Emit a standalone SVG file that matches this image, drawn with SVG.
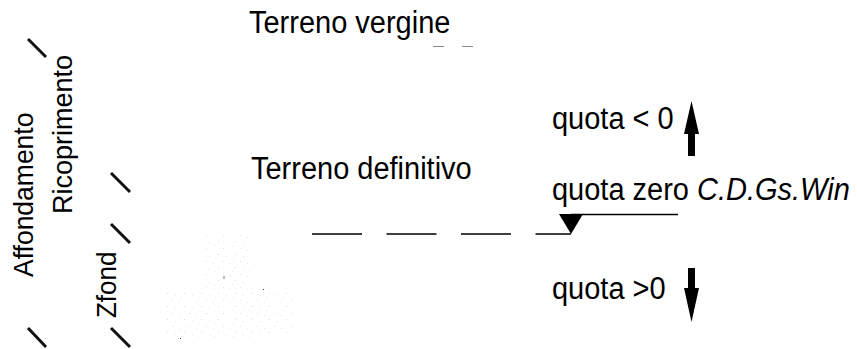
<svg xmlns="http://www.w3.org/2000/svg" width="857" height="349" viewBox="0 0 857 349">
<defs>
<style>
.t{font-family:"Liberation Sans",Arial,sans-serif;fill:#000}
.big{font-size:29px}
.v{font-size:26.5px}
.sl{stroke:#111;stroke-width:3;stroke-linecap:butt}
.ln{stroke:#000;stroke-width:1.3;fill:none}
</style>
<pattern id="speck" width="17" height="13" patternUnits="userSpaceOnUse">
<rect x="2" y="1" width="1" height="1" fill="#e2e2e2"/>
<rect x="9" y="3" width="1" height="1" fill="#e8e8e8"/>
<rect x="14" y="7" width="1" height="1" fill="#dedede"/>
<rect x="5" y="9" width="1" height="1" fill="#e6e6e6"/>
<rect x="11" y="11" width="1" height="1" fill="#ebebeb"/>
</pattern>
</defs>
<rect width="857" height="349" fill="#fff"/>

<g id="speckle">
<rect x="206" y="235" width="46" height="55" fill="url(#speck)"/>
<rect x="167" y="290" width="125" height="48" fill="url(#speck)"/>
<rect x="223.5" y="276" width="1" height="3" fill="#777"/>
<rect x="263" y="289" width="1" height="1" fill="#333"/>
<rect x="180" y="338" width="1" height="1" fill="#333"/>
</g>

<g id="terreno-vergine">
<text class="t big" transform="translate(249,32.5) scale(1,1.05)">Terreno vergine</text>
<line x1="433" y1="46.5" x2="444" y2="46.5" stroke="#888" stroke-width="1"/>
<line x1="462" y1="46.5" x2="473" y2="46.5" stroke="#888" stroke-width="1"/>
</g>

<g id="terreno-definitivo">
<text class="t big" transform="translate(251,178.5) scale(1,1.05)">Terreno definitivo</text>
</g>

<g id="quota-neg">
<text class="t big" transform="translate(552,129) scale(1,1.05)">quota &lt; 0</text>
<polygon points="691.5,101 699,134 695,134 695,156 688,156 688,134 684,134" fill="#000"/>
</g>

<g id="quota-zero">
<text class="t big" transform="translate(552,200) scale(1,1.05)">quota zero <tspan font-style="italic">C.D.Gs.Win</tspan></text>
<line class="ln" x1="571" y1="214.5" x2="678" y2="214.5"/>
<polygon points="559,214 583,214 571,234" fill="#000"/>
</g>

<g id="quota-pos">
<text class="t big" transform="translate(552,299) scale(1,1.05)">quota &gt;0</text>
<polygon points="688,268 695,268 695,288 699,288 691.5,322 684,288 688,288" fill="#000"/>
</g>

<g id="labels-vertical">
<text class="t v" transform="translate(33,277) rotate(-90) scale(1,1.05)">Affondamento</text>
<text class="t v" transform="translate(72,214) rotate(-90) scale(1,1.05)" style="font-size:27px">Ricoprimento</text>
<text class="t v" transform="translate(116,318) rotate(-90) scale(1,1.05)" style="font-size:26px">Zfond</text>
</g>

<g id="connectors">
<line class="ln" x1="312" y1="234" x2="571" y2="234" stroke-dasharray="50 24.5"/>
<line class="sl" x1="28" y1="39" x2="46" y2="57"/>
<line class="sl" x1="111" y1="173" x2="130" y2="192"/>
<line class="sl" x1="111" y1="224" x2="130" y2="243"/>
<line class="sl" x1="28" y1="328" x2="46" y2="347" stroke="#333"/>
<line class="sl" x1="111" y1="328" x2="130" y2="347"/>
</g>
</svg>
